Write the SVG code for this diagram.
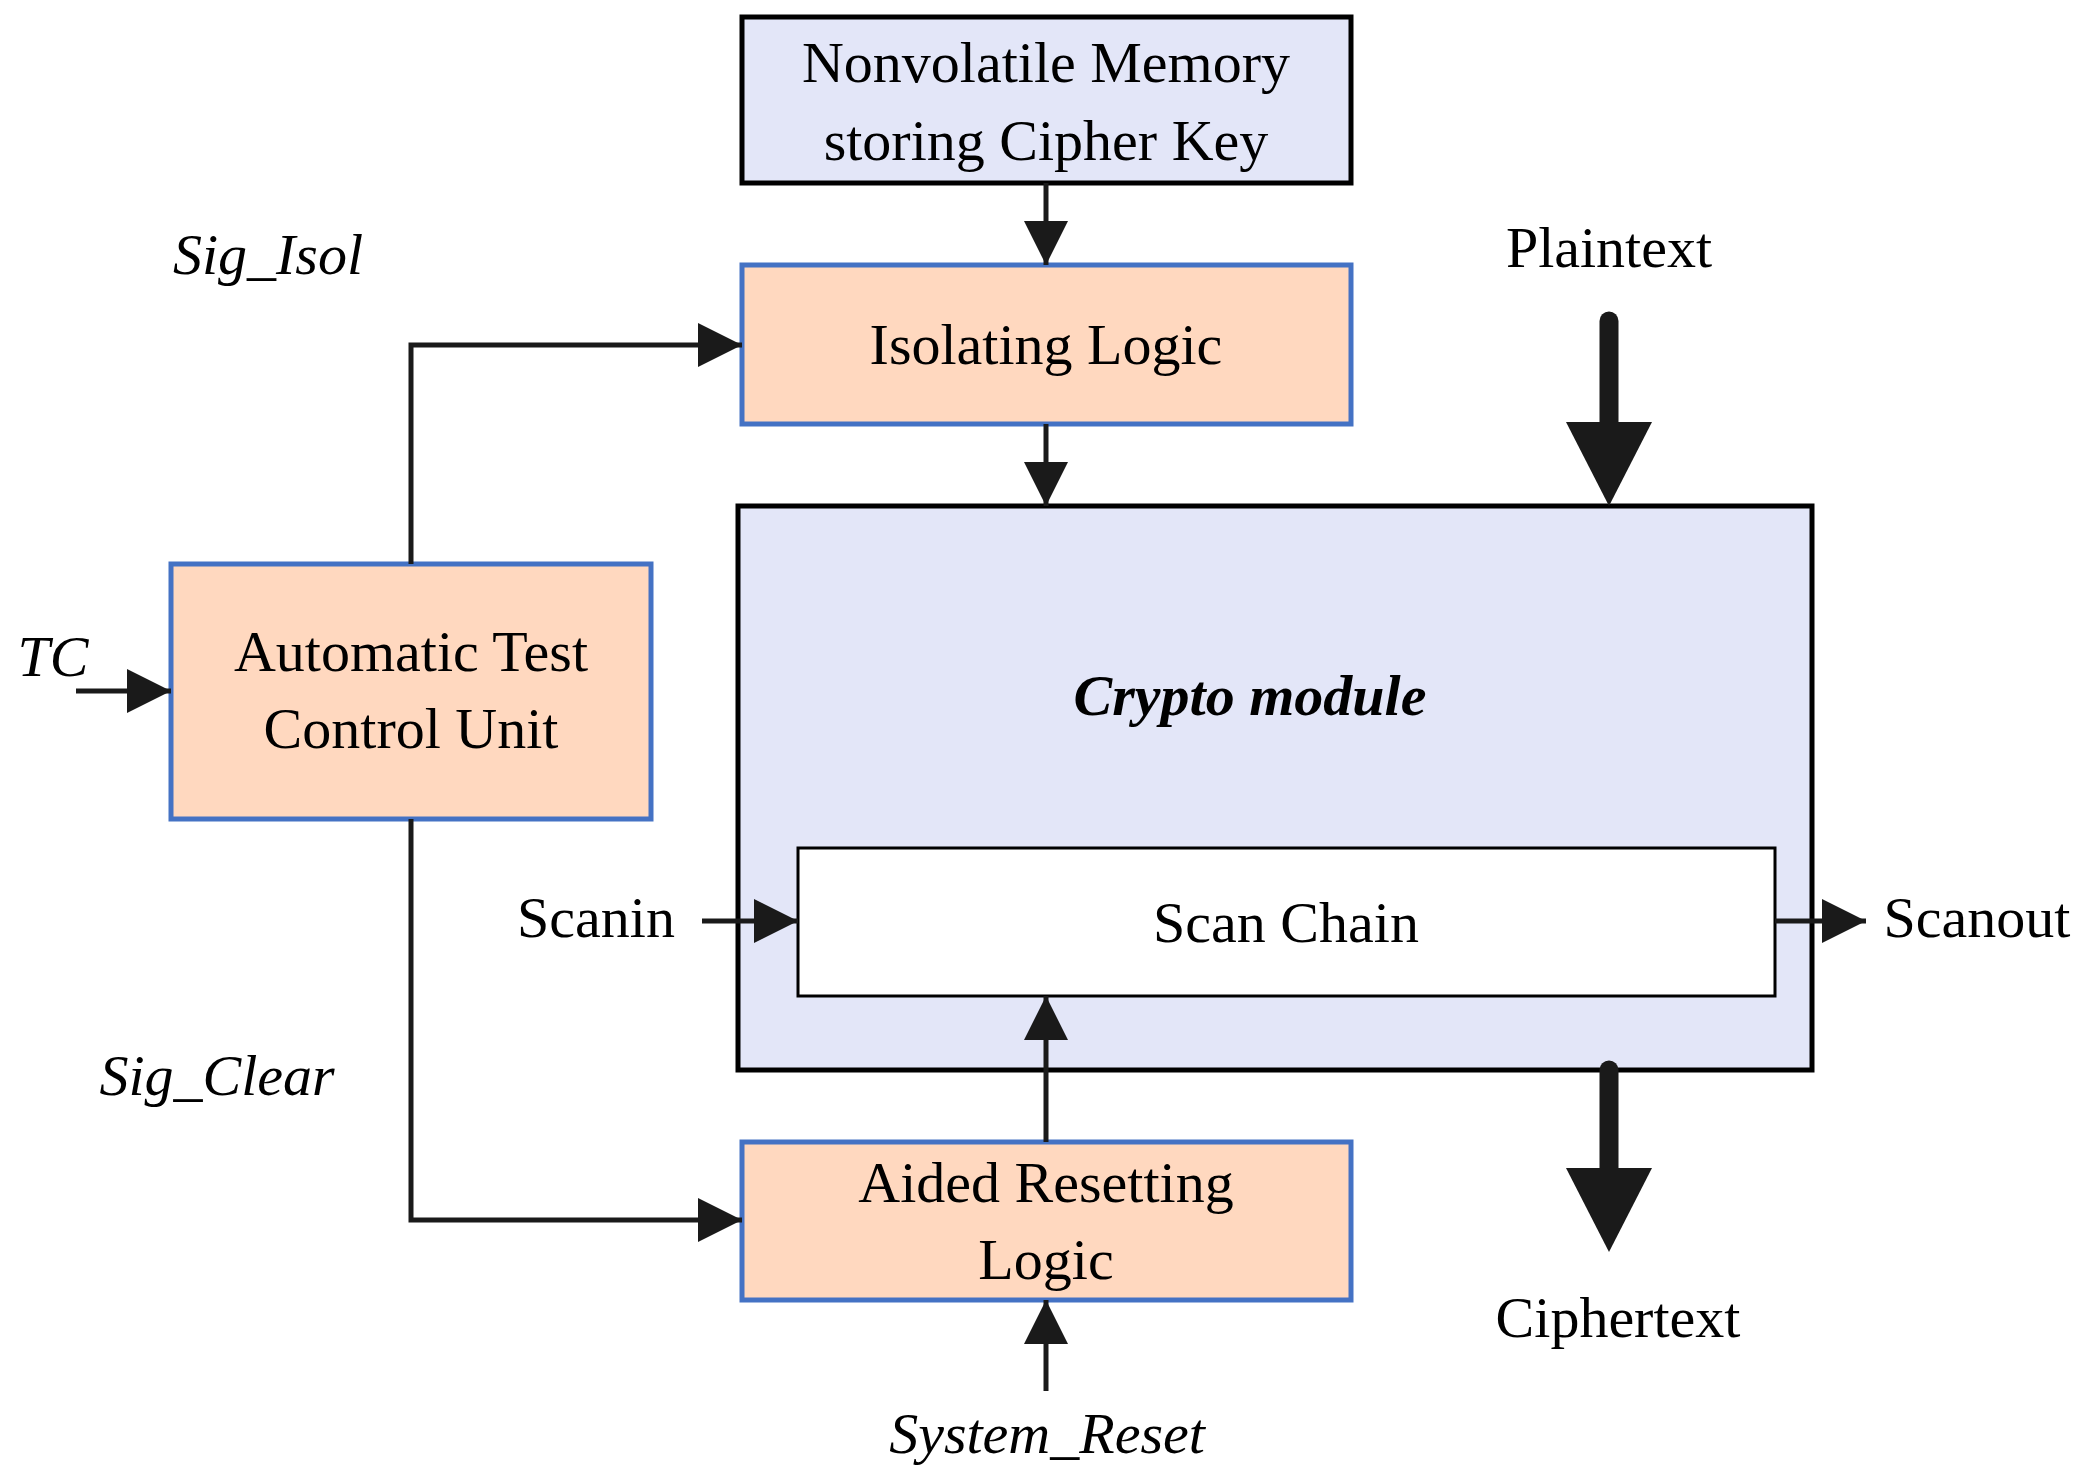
<svg xmlns="http://www.w3.org/2000/svg" width="2097" height="1479" viewBox="0 0 2097 1479">
<style>
text{font-family:"Liberation Serif",serif;font-size:58px;fill:#000;text-anchor:middle;dominant-baseline:central}
.it{font-style:italic}
.blk{fill:#ffd8bf;stroke:#4472c4;stroke-width:5}
.mem{fill:#e3e6f8;stroke:#000;stroke-width:5}
.ln{fill:none;stroke:#1a1a1a;stroke-width:5}
.thick{fill:none;stroke:#1a1a1a;stroke-width:19;stroke-linecap:round}
</style>
<defs>
<marker id="a" markerUnits="userSpaceOnUse" markerWidth="44" markerHeight="44" refX="44" refY="22" orient="auto"><path d="M0,0L44,22L0,44z" fill="#1a1a1a"/></marker>
</defs>
<rect width="2097" height="1479" fill="#fff"/>
<g id="nvm"><rect class="mem" x="742" y="17" width="609" height="166"/><text x="1046" y="62">Nonvolatile Memory</text><text x="1046" y="140">storing Cipher Key</text></g>
<g id="iso"><rect class="blk" x="742" y="265" width="609" height="159"/><text x="1046" y="344">Isolating Logic</text></g>
<g id="crypto"><rect class="mem" x="738" y="506" width="1074" height="564"/><text x="1250" y="695" class="it" font-weight="bold" font-size="70">Crypto module</text></g>
<g id="scan"><rect x="798" y="848" width="977" height="148" fill="#fff" stroke="#000" stroke-width="3"/><text x="1286" y="922">Scan Chain</text></g>
<g id="atcu"><rect class="blk" x="171" y="564" width="480" height="255"/><text x="411" y="651">Automatic Test</text><text x="411" y="728">Control Unit</text></g>
<g id="arl"><rect class="blk" x="742" y="1142" width="609" height="158"/><text x="1046" y="1182">Aided Resetting</text><text x="1046" y="1259">Logic</text></g>
<g id="labels">
<text class="it" x="268" y="254">Sig_Isol</text>
<text class="it" x="217" y="1075">Sig_Clear</text>
<text class="it" x="53" y="656">TC</text>
<text x="1609" y="247">Plaintext</text>
<text x="1618" y="1317">Ciphertext</text>
<text class="it" x="1047" y="1433">System_Reset</text>
<text x="596" y="917">Scanin</text>
<text x="1977" y="917">Scanout</text>
</g>
<g id="connectors">
<path class="ln" marker-end="url(#a)" d="M1046,183V265"/>
<path class="ln" marker-end="url(#a)" d="M1046,424V506"/>
<path class="ln" marker-end="url(#a)" d="M411,564V345H742"/>
<path class="ln" marker-end="url(#a)" d="M411,819V1220H742"/>
<path class="ln" marker-end="url(#a)" d="M76,691H171"/>
<path class="ln" marker-end="url(#a)" d="M702,921H798"/>
<path class="ln" marker-end="url(#a)" d="M1775,921H1866"/>
<path class="ln" marker-end="url(#a)" d="M1046,1142V996"/>
<path class="ln" marker-end="url(#a)" d="M1046,1391V1300"/>
<path class="thick" d="M1609,321V430"/><path d="M1566,422H1652L1609,506z" fill="#1a1a1a"/>
<path class="thick" d="M1609,1070V1175"/><path d="M1566,1168H1652L1609,1252z" fill="#1a1a1a"/>
</g>
</svg>
